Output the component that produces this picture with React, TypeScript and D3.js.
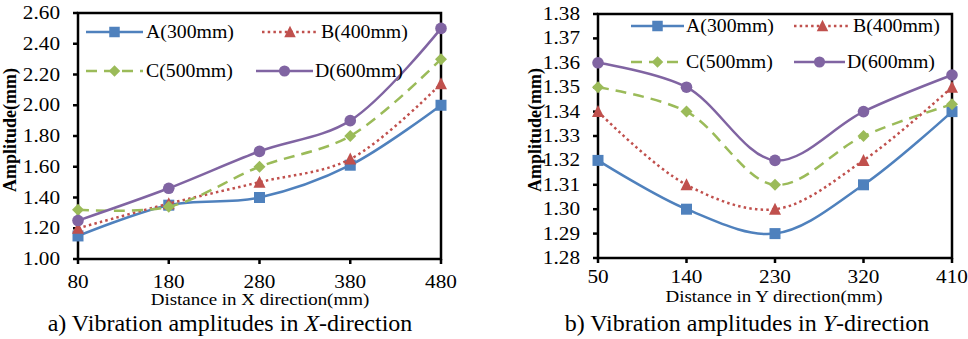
import React from "react";
import * as d3 from "d3";

const seriesNames = ["A(300mm)", "B(400mm)", "C(500mm)", "D(600mm)"];
const xCatsX = [80, 180, 280, 380, 480];
const xValsA = [1.15, 1.35, 1.40, 1.61, 2.00];
const xValsB = [1.20, 1.36, 1.50, 1.65, 2.14];
const xValsC = [1.32, 1.34, 1.60, 1.80, 2.30];
const xValsD = [1.25, 1.46, 1.70, 1.90, 2.50];
const xTicks = [1.0, 1.2, 1.4, 1.6, 1.8, 2.0, 2.2, 2.4, 2.6];

const yCatsY = [50, 140, 230, 320, 410];
const yValsA = [1.32, 1.30, 1.29, 1.31, 1.34];
const yValsB = [1.34, 1.31, 1.30, 1.32, 1.35];
const yValsC = [1.35, 1.34, 1.31, 1.33, 1.343];
const yValsD = [1.36, 1.35, 1.32, 1.34, 1.355];
const yTicks = [1.28, 1.29, 1.30, 1.31, 1.32, 1.33, 1.34, 1.35, 1.36, 1.37, 1.38];

const colors = ["#4F81BD", "#C0504D", "#9BBB59", "#8064A2"];
const dashes = [null, "2.5,3.2", "11,7", null];
const markers = ["square", "triangle", "diamond", "circle"];
const FONT = "Liberation Serif, DejaVu Serif";
const SX = 1.18;

function Marker({ type, x, y, color, s = 11 }: any) {
  const h = s / 2;
  if (type === "square") return <rect x={x - h} y={y - h} width={s} height={s} fill={color} />;
  if (type === "circle") return <circle cx={x} cy={y} r={h + 0.3} fill={color} />;
  if (type === "triangle")
    return <path d={`M${x},${y - h - 1}L${x + h + 0.5},${y + h}L${x - h - 0.5},${y + h}Z`} fill={color} />;
  return <path d={`M${x},${y - h - 0.5}L${x + h + 0.5},${y}L${x},${y + h + 0.5}L${x - h - 0.5},${y}Z`} fill={color} />;
}

function T({ x, y, children, anchor = "start", size = 18, sx = SX, weight = "normal" }: any) {
  return (
    <text
      transform={`translate(${x},${y}) scale(${sx},1)`}
      textAnchor={anchor}
      style={{ fontFamily: FONT, fontSize: size, fontWeight: weight }}
      fill="#000"
    >
      {children}
    </text>
  );
}

function Chart({ cats, series, ticks, fmt, box, legend, xTitle, yTitleX, yTitleY, tickLabelY, xTitleY, xTitleX }: any) {
  const x = d3.scalePoint<number>().domain(cats).range([box.l, box.r]);
  const y = d3.scaleLinear().domain([ticks[0], ticks[ticks.length - 1]]).range([box.b, box.t]);
  const line = d3
    .line<number>()
    .x((_, i) => x(cats[i])!)
    .y((v) => y(v))
    .curve(d3.curveCatmullRom.alpha(0.5));
  return (
    <g>
      <rect x={box.l} y={box.t} width={box.r - box.l} height={box.b - box.t} fill="none" stroke="#000" strokeWidth={2.5} />
      {ticks.map((t: number) => (
        <g key={t}>
          <line x1={box.l - 5} x2={box.l} y1={y(t)} y2={y(t)} stroke="#000" strokeWidth={2.5} />
          <T x={box.l - 18} y={y(t) + 6} anchor="end">{fmt(t)}</T>
        </g>
      ))}
      {cats.map((c: number) => (
        <g key={c}>
          <line x1={x(c)} x2={x(c)} y1={box.b} y2={box.b + 5} stroke="#000" strokeWidth={2.5} />
          <T x={x(c)} y={tickLabelY} anchor="middle">{c}</T>
        </g>
      ))}
      {series.map((vals: number[], i: number) => (
        <g key={i}>
          <path d={line(vals)!} fill="none" stroke={colors[i]} strokeWidth={2.5} strokeDasharray={dashes[i] || undefined} />
          {vals.map((v, j) => (
            <Marker key={j} type={markers[i]} x={x(cats[j])!} y={y(v)} color={colors[i]} />
          ))}
        </g>
      ))}
      {legend.map((lg: any, i: number) => (
        <g key={i}>
          <line x1={lg.x1} x2={lg.x2} y1={lg.y} y2={lg.y} stroke={colors[i]} strokeWidth={2.5} strokeDasharray={dashes[i] || undefined} />
          <Marker type={markers[i]} x={(lg.x1 + lg.x2) / 2} y={lg.y} color={colors[i]} s={10.5} />
          <T x={lg.tx} y={lg.y + 6} sx={1.1}>{seriesNames[i]}</T>
        </g>
      ))}
      <T x={xTitleX} y={xTitleY} anchor="middle" size={16.5} sx={1.15}>{xTitle}</T>
      <text
        transform={`translate(${yTitleX},${yTitleY}) rotate(-90)`}
        textAnchor="middle"
        style={{ fontFamily: FONT, fontSize: 18, fontWeight: "bold" }}
        fill="#000"
      >
        Amplitude(mm)
      </text>
    </g>
  );
}

export default function App() {
  return (
    <svg width={968} height={339} style={{ position: "absolute", left: 0, top: 0, background: "#fff" }}>
      <Chart
        cats={xCatsX}
        series={[xValsA, xValsB, xValsC, xValsD]}
        ticks={xTicks}
        fmt={(t: number) => t.toFixed(2)}
        box={{ l: 78, r: 441, t: 13, b: 259 }}
        legend={[
          { x1: 86, x2: 143, tx: 146, y: 32 },
          { x1: 262, x2: 318, tx: 321, y: 32 },
          { x1: 86, x2: 143, tx: 146, y: 71 },
          { x1: 256, x2: 313, tx: 315, y: 71 },
        ]}
        xTitle="Distance in X direction(mm)"
        xTitleX={260}
        xTitleY={305}
        tickLabelY={288}
        yTitleX={16}
        yTitleY={130}
      />
      <Chart
        cats={yCatsY}
        series={[yValsA, yValsB, yValsC, yValsD]}
        ticks={yTicks}
        fmt={(t: number) => t.toFixed(2)}
        box={{ l: 598, r: 952, t: 14, b: 258 }}
        legend={[
          { x1: 631, x2: 684, tx: 686, y: 26 },
          { x1: 794, x2: 851, tx: 853, y: 26 },
          { x1: 631, x2: 684, tx: 686, y: 62 },
          { x1: 794, x2: 845, tx: 847, y: 62 },
        ]}
        xTitle="Distance in Y direction(mm)"
        xTitleX={774}
        xTitleY={302}
        tickLabelY={283}
        yTitleX={541}
        yTitleY={130}
      />
      <text x={230} y={331} textAnchor="middle" style={{ fontFamily: FONT, fontSize: 24 }}>
        a) Vibration amplitudes in <tspan fontStyle="italic">X</tspan>-direction
      </text>
      <text x={747} y={331} textAnchor="middle" style={{ fontFamily: FONT, fontSize: 24 }}>
        b) Vibration amplitudes in <tspan fontStyle="italic">Y</tspan>-direction
      </text>
    </svg>
  );
}
